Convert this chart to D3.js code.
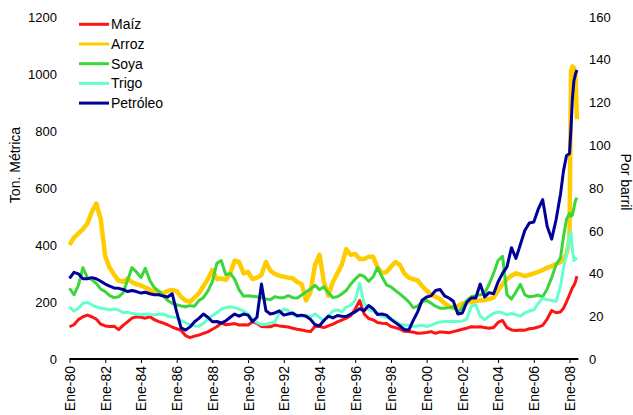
<!DOCTYPE html>
<html>
<head>
<meta charset="utf-8">
<script src="https://cdnjs.cloudflare.com/ajax/libs/d3/7.8.5/d3.min.js"></script>
<style>
body { margin: 0; background: #fff; }
text { font-family: Arial, "Liberation Sans", sans-serif; fill: #000; }
</style>
</head>
<body>
<div id="viz1"></div>
<script>
// Precios: trimestral ene-80 a jul-07, despues mensual hasta jun-08
var trimestres = d3.timeMonth.range(new Date(1980, 0, 1), new Date(2007, 9, 1), 3);
var mesesFinales = ["2007-09", "2007-11", "2008-01", "2008-02", "2008-03", "2008-04", "2008-05", "2008-06"];

var maiz = [
  113,120,138,148, 154,148,140,122, 116,114,115,103, 118,130,143,148,
  146,143,148,138, 131,126,120,112, 106,100,82,75, 80,84,90,95,
  104,113,126,120, 122,124,119,120, 119,130,125,114, 113,113,119,116,
  114,112,108,104, 102,98,96,115, 114,110,116,122, 130,136,143,152,
  175,205,158,142, 137,128,125,124, 114,110,105,97, 96,94,90,91,
  93,96,90,95, 94,92,96,100, 104,108,113,112, 113,110,108,110,
  128,135,110,102, 100,102,101,106, 108,112,118,140, 170,162,165,
  178,200,225,238,250,258,270,290];

var arroz = [
  400,425,440,455, 475,515,545,490, 360,320,295,275, 270,282,270,262,
  258,250,243,235, 232,230,238,242, 238,218,205,200, 215,230,255,280,
  312,280,282,277, 300,345,340,300, 305,280,285,295, 340,310,298,292,
  288,285,283,270, 262,205,235,330, 365,270,222,270, 300,330,385,365,
  368,350,350,358, 358,322,300,305, 323,340,330,300, 285,280,275,255,
  240,225,218,210, 195,185,178,185, 195,198,200,203, 205,207,210,215,
  240,262,280,292, 300,296,290,295, 300,305,312,320, 325,333,340,
  350,368,420,1010,1025,1020,1000,840];

var soya = [
  248,225,258,320, 285,278,265,245, 236,222,215,218, 232,275,320,305,
  285,318,275,250, 238,222,205,195, 190,186,183,187, 185,205,215,238,
  270,335,345,295, 300,280,242,220, 222,220,218,215, 210,208,218,215,
  215,222,215,214, 224,235,245,258, 243,253,232,215, 218,228,240,262,
  280,295,290,272, 288,320,288,260, 253,240,228,215, 200,180,185,200,
  205,195,185,178, 178,180,183,165, 180,205,218,222, 225,230,262,300,
  345,360,225,210, 235,262,225,218, 220,224,218,245, 285,330,355,
  430,490,510,500,505,530,555,565];

var trigo = [
  183,168,178,195, 198,190,183,178, 176,172,175,172, 162,164,160,157,
  155,158,156,155, 157,158,150,147, 145,135,127,120, 116,115,125,140,
  152,162,175,180, 183,180,175,168, 158,140,128,120, 122,126,130,160,
  175,170,155,149, 150,152,148,158, 145,135,150,168, 172,165,182,188,
  205,265,195,173, 168,160,150,145, 142,133,122,118, 118,114,116,118,
  114,118,125,130, 131,131,131,131, 133,140,185,190, 150,138,150,160,
  165,162,155,160, 155,150,162,168, 172,195,212,208, 205,202,255,
  320,365,430,445,380,345,350,355];

var petroleo = [
  37.7,40.5,39.8,37.5, 37.5,38.0,37.5,36.3, 35.0,34.0,33.2,33.0, 32.5,31.5,32.0,31.5,
  30.8,31.2,30.5,30.0, 30.0,29.4,29.0,30.5, 22.0,14.5,13.5,15.0, 17.4,19.0,21.0,19.5,
  17.4,17.5,16.8,17.8, 19.5,21.0,20.0,21.0, 20.5,17.5,19.5,35.0, 22.5,21.0,21.5,22.5,
  20.5,21.0,21.5,20.2, 20.5,20.0,18.5,16.0, 15.5,18.0,20.0,19.2, 20.3,20.0,19.8,21.0,
  22.0,23.5,22.5,25.0, 23.5,20.8,21.0,20.5, 18.5,17.0,15.5,13.8, 13.5,18.0,22.0,27.5,
  29.0,29.5,32.0,32.5, 29.5,28.5,27.0,21.0, 21.5,26.5,28.5,28.5, 35.0,29.0,31.0,30.5,
  36.0,40.0,43.0,52.0, 47.0,53.5,60.0,63.5, 64.0,70.0,74.5,62.0, 56.0,65.0,77.0,
  88,95,96,108,122,130,133,135];

var nombres = ["Maíz", "Arroz", "Soya", "Trigo", "Petróleo"];
var colores = ["#ff1414", "#ffcc00", "#3ad63a", "#66ffcc", "#000099"];
var ticksIzq = [0, 200, 400, 600, 800, 1000, 1200];
var ticksDer = [0, 20, 40, 60, 80, 100, 120, 140, 160];

var parseMes = d3.timeParse("%Y-%m");
var fechas = trimestres.concat(mesesFinales.map(parseMes));

var w = 633;
var h = 415;
var margin = {top: 16.5, bottom: 56, left: 69.5, right: 63.5};
var x0 = 0 + margin.left, y0 = h - margin.bottom;

var svg = d3.select("#viz1")
            .append("svg")
            .attr("width", w)
            .attr("height", h);

var x = d3.scaleTime()
          .domain([new Date(1980, 0, 1), new Date(2008, 0, 1)])
          .range([x0, w - margin.right]);

var yIzq = d3.scaleLinear().domain([0, 1200]).range([y0, margin.top]);
var yDer = d3.scaleLinear().domain([0, 160]).range([y0, margin.top]);

var series = [
  {nombre: nombres[0], valores: maiz, escala: yIzq, color: colores[0], ancho: 3},
  {nombre: nombres[1], valores: arroz, escala: yIzq, color: colores[1], ancho: 4.5},
  {nombre: nombres[2], valores: soya, escala: yIzq, color: colores[2], ancho: 3},
  {nombre: nombres[3], valores: trigo, escala: yIzq, color: colores[3], ancho: 3},
  {nombre: nombres[4], valores: petroleo, escala: yDer, color: colores[4], ancho: 3}
];

// lineas
series.forEach(function(s) {
  var linea = d3.line()
                .x(function(d, i) { return x(fechas[i]); })
                .y(function(d) { return s.escala(d); });
  svg.append("path")
     .datum(s.valores)
     .attr("d", linea)
     .style("fill", "none")
     .style("stroke", s.color)
     .style("stroke-width", s.ancho)
     .style("stroke-linejoin", "round");
});

// eje x
var anios = d3.timeYear.range(new Date(1980, 0, 1), new Date(2008, 1, 1), 2);
var ejeX = svg.append("g")
              .attr("transform", "translate(0," + y0 + ")")
              .call(d3.axisBottom(x)
                      .tickValues(anios)
                      .tickSize(4)
                      .tickSizeOuter(0)
                      .tickFormat(function(d) { return "Ene-" + d3.timeFormat("%y")(d); }));
ejeX.select(".domain")
    .attr("d", "M" + x0 + ",0H" + x(new Date(2008, 6, 1)))
    .style("stroke", "#000")
    .style("stroke-width", 2);
ejeX.selectAll(".tick line").style("stroke", "#000");
ejeX.selectAll("text")
    .attr("transform", "rotate(-90)")
    .attr("text-anchor", "end")
    .attr("x", -7)
    .attr("y", 0)
    .attr("dy", "0.35em")
    .style("font-size", "14px");

// ejes y
var ejeIzq = svg.append("g")
                .attr("transform", "translate(57,0)")
                .call(d3.axisLeft(yIzq).tickValues(ticksIzq).tickSize(0).tickPadding(0).tickFormat(d3.format("d")));
var ejeDer = svg.append("g")
                .attr("transform", "translate(589,0)")
                .call(d3.axisRight(yDer).tickValues(ticksDer).tickSize(0).tickPadding(0).tickFormat(d3.format("d")));
[ejeIzq, ejeDer].forEach(function(g) {
  g.select(".domain").remove();
  g.selectAll("text").style("font-size", "13px").attr("dy", "0.35em");
});

svg.append("text")
   .attr("transform", "translate(15,165) rotate(-90)")
   .attr("text-anchor", "middle")
   .attr("dy", "0.35em")
   .style("font-size", "14px")
   .text("Ton. Métrica");

svg.append("text")
   .attr("transform", "translate(626,182) rotate(90)")
   .attr("text-anchor", "middle")
   .attr("dy", "0.35em")
   .style("font-size", "14px")
   .text("Por barril");

// leyenda
var legend = svg.selectAll("g.legend")
                .data(series)
                .enter()
                .append("g")
                .attr("class", "legend")
                .attr("transform", function(d, i) { return "translate(79," + (24.3 + i * 19.7) + ")"; });

legend.append("line")
      .attr("x1", 0)
      .attr("x2", 30)
      .style("stroke", function(d) { return d.color; })
      .style("stroke-width", 3);

legend.append("text")
      .attr("x", 32)
      .attr("dy", "0.35em")
      .style("font-size", "14px")
      .text(function(d) { return d.nombre; });
</script>
</body>
</html>
